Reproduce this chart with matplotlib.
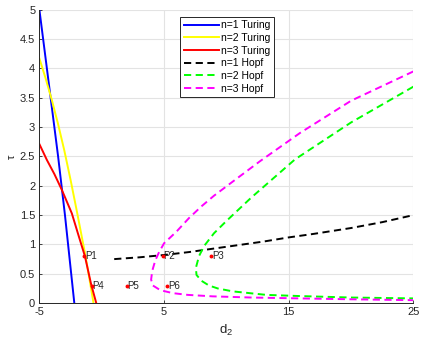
import numpy as np
import matplotlib
matplotlib.use("Agg")
import matplotlib.pyplot as plt

plt.rcParams["font.family"] = ["Liberation Sans", "DejaVu Sans"]
plt.rcParams["mathtext.fontset"] = "custom"
plt.rcParams["mathtext.rm"] = "Liberation Sans"
plt.rcParams["mathtext.it"] = "Liberation Sans"
plt.rcParams["axes.unicode_minus"] = False

# Turing curves (d2, tau)
turing1_d2 = [-5.0, -4.1, -3.5, -2.95, -2.2]
turing1_tau = [5.0, 3.5, 2.5, 1.5, 0.0]

turing2_d2 = [-5.0, -4.5, -4.0, -3.5, -3.0, -2.5, -2.0, -1.6, -1.3, -1.0, -0.66]
turing2_tau = [4.17, 3.83, 3.46, 3.05, 2.6, 2.1, 1.57, 1.13, 0.8, 0.43, 0.0]

turing3_d2 = [-5.0, -4.4, -3.8, -3.2, -2.4, -1.9, -1.35, -0.85, -0.44]
turing3_tau = [2.71, 2.44, 2.2, 1.93, 1.53, 1.18, 0.8, 0.32, 0.0]

# Hopf curves
hopf1_d2 = [1.0, 3.0, 5.0, 7.0, 9.0, 11.0, 13.0, 15.0, 17.0, 20.0, 22.5, 25.0]
hopf1_tau = [0.75, 0.78, 0.82, 0.87, 0.93, 0.99, 1.05, 1.12, 1.18, 1.28, 1.38, 1.5]

hopf2_d2 = [25.0, 20.0, 15.5, 12.0, 10.0, 9.0, 8.2, 7.8, 7.55, 7.6, 8.0, 8.6, 9.3,
            10.5, 13.2, 15.9, 20.0, 25.0]
hopf2_tau = [3.69, 3.08, 2.45, 1.8, 1.4, 1.19, 0.97, 0.8, 0.6, 0.48, 0.38, 0.3, 0.25,
             0.2, 0.14, 0.12, 0.095, 0.08]

hopf3_d2 = [25.0, 20.0, 15.9, 12.7, 10.5, 9.0, 8.0, 7.0, 6.0, 5.0, 4.6, 4.3, 4.05,
            3.96, 4.1, 4.7, 5.7, 6.9, 8.9, 12.0, 15.9, 20.0, 25.0]
hopf3_tau = [3.95, 3.45, 2.9, 2.42, 2.07, 1.83, 1.65, 1.45, 1.22, 1.02, 0.87, 0.73, 0.55,
             0.4, 0.3, 0.22, 0.17, 0.14, 0.115, 0.095, 0.08, 0.065, 0.05]

# marked points
pt_names = ["P1", "P2", "P3", "P4", "P5", "P6"]
pt_d2 = [-1.4, 4.9, 8.8, -0.8, 2.0, 5.25]
pt_tau = [0.8, 0.8, 0.8, 0.3, 0.3, 0.3]

fig = plt.figure(figsize=(4.26, 3.5), dpi=100)
ax = fig.add_axes([0.0925, 0.134, 0.878, 0.838])

lw = 1.4
dash = (3.7, 2.3)
ax.plot(turing1_d2, turing1_tau, color="#0000ff", lw=lw, label="n=1 Turing")
ax.plot(turing2_d2, turing2_tau, color="#ffff00", lw=lw, label="n=2 Turing")
ax.plot(turing3_d2, turing3_tau, color="#ff0000", lw=lw, label="n=3 Turing")
ax.plot(hopf1_d2, hopf1_tau, color="black", lw=lw, ls="--", dashes=dash, label="n=1 Hopf")
ax.plot(hopf2_d2, hopf2_tau, color="#00ff00", lw=lw, ls="--", dashes=dash, label="n=2 Hopf")
ax.plot(hopf3_d2, hopf3_tau, color="#ff00ff", lw=lw, ls="--", dashes=dash, label="n=3 Hopf")

ax.plot(pt_d2, pt_tau, ls="", marker="o", ms=1.8, color="red", zorder=5)
for name, x, y in zip(pt_names, pt_d2, pt_tau):
    ax.text(x + 0.05, y, name, fontsize=7, color="#262626", va="center", ha="left")

ax.set_xlim(-5, 25)
ax.set_ylim(0, 5)
ax.set_xticks([-5, 5, 15, 25])
ax.set_yticks(np.arange(0, 5.01, 0.5))
ax.set_yticklabels(["0", "0.5", "1", "1.5", "2", "2.5", "3", "3.5", "4", "4.5", "5"])
ax.tick_params(direction="in", length=2.5, width=0.6, labelsize=8,
               colors="#262626", pad=3)
ax.grid(True, color="#e3e3e3", lw=0.8)
ax.set_axisbelow(True)
for s in ["top", "right"]:
    ax.spines[s].set_visible(False)
for s in ["left", "bottom"]:
    ax.spines[s].set_color("#262626")
    ax.spines[s].set_linewidth(0.7)

ax.set_xlabel("d$_2$", fontsize=9.5, color="#262626", labelpad=4)
ax.set_ylabel("\u03c4", fontsize=8, color="#262626", labelpad=2)

leg = ax.legend(loc="upper left", bbox_to_anchor=(0.376, 0.976), fontsize=7.5,
                handlelength=3.4, handletextpad=0.15, labelspacing=0.25,
                borderpad=0.35, borderaxespad=0, fancybox=False, framealpha=1)
leg.get_frame().set_edgecolor("#262626")
leg.get_frame().set_linewidth(0.7)

fig.savefig("out.png", dpi=100)
